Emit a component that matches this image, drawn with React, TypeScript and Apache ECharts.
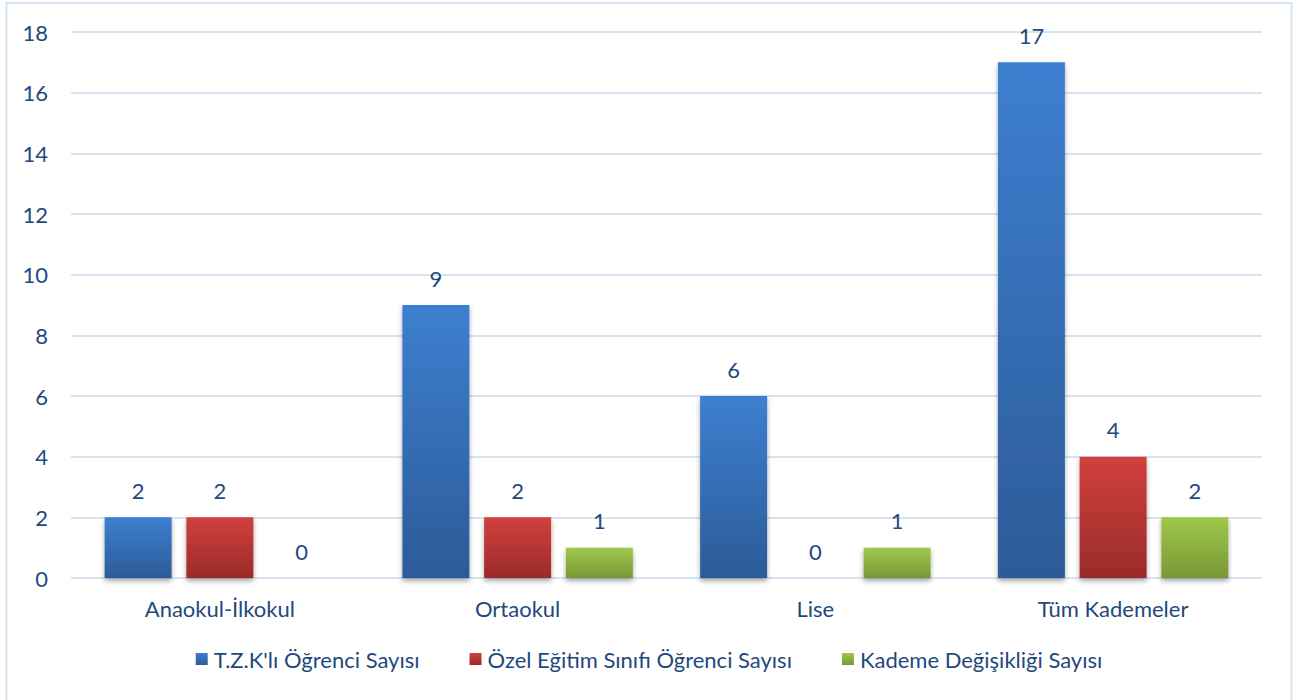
import React, { useEffect, useRef } from "react";
import * as echarts from "echarts";

const categories = ["Anaokul-İlkokul", "Ortaokul", "Lise", "Tüm Kademeler"];
const seriesNames = ["T.Z.K'lı Öğrenci Sayısı", "Özel Eğitim Sınıfı Öğrenci Sayısı", "Kademe Değişikliği Sayısı"];
const tzkValues = [2, 9, 6, 17];
const ozelValues = [2, 2, 0, 4];
const kademeValues = [0, 1, 1, 2];
const gradients = [
  ["#3D7FD0", "#2C5B98"],
  ["#D2403E", "#9A2B29"],
  ["#A0C84C", "#789836"],
];

const TEXT = "#1F497D";
const FONT = "Lato";
const FS = 22;

export default function App() {
  const ref = useRef<HTMLDivElement>(null);
  useEffect(() => {
    const chart = echarts.init(ref.current!, null, { renderer: "svg" });
    const values = [tzkValues, ozelValues, kademeValues];
    chart.setOption({
      animation: false,
      backgroundColor: "#ffffff",
      textStyle: { fontFamily: FONT },
      graphic: [
        {
          type: "rect",
          shape: { x: 6.5, y: 3, width: 1285, height: 710 },
          style: { fill: "none", stroke: "#D6E3F3", lineWidth: 2 },
          silent: true,
        },
      ],
      grid: { left: 71, right: 36, top: 32, bottom: 122 },
      legend: {
        bottom: 25,
        left: "center",
        itemWidth: 12,
        itemHeight: 12,
        itemGap: 50,
        icon: "rect",
        textStyle: { color: TEXT, fontSize: FS, fontFamily: FONT, padding: [0, 0, 0, 1] },
        data: seriesNames,
      },
      xAxis: {
        type: "category",
        data: categories,
        axisLine: { show: false },
        axisTick: { show: false },
        axisLabel: { color: TEXT, fontSize: FS, fontFamily: FONT, margin: 19 },
      },
      yAxis: {
        type: "value",
        min: 0,
        max: 18,
        interval: 2,
        axisLine: { show: false },
        axisTick: { show: false },
        axisLabel: { color: TEXT, fontSize: FS, fontFamily: FONT, margin: 23 },
        splitLine: { lineStyle: { color: "#D6E3F3", width: 2 } },
      },
      series: seriesNames.map((name, i) => ({
        name,
        type: "bar",
        data: values[i],
        barWidth: "22.5%",
        barGap: "22%",
        itemStyle: {
          color: new echarts.graphic.LinearGradient(0, 0, 0, 1, [
            { offset: 0, color: gradients[i][0] },
            { offset: 1, color: gradients[i][1] },
          ]),
          shadowColor: "rgba(0,0,0,0.35)",
          shadowBlur: 5,
          shadowOffsetY: 3,
        },
        label: {
          show: true,
          position: "top",
          distance: 16,
          color: TEXT,
          fontSize: FS,
          fontFamily: FONT,
        },
      })),
    });
    return () => chart.dispose();
  }, []);
  return (
    <div
      ref={ref}
      style={{ position: "fixed", left: 0, top: 0, width: 1298, height: 700 }}
    />
  );
}
